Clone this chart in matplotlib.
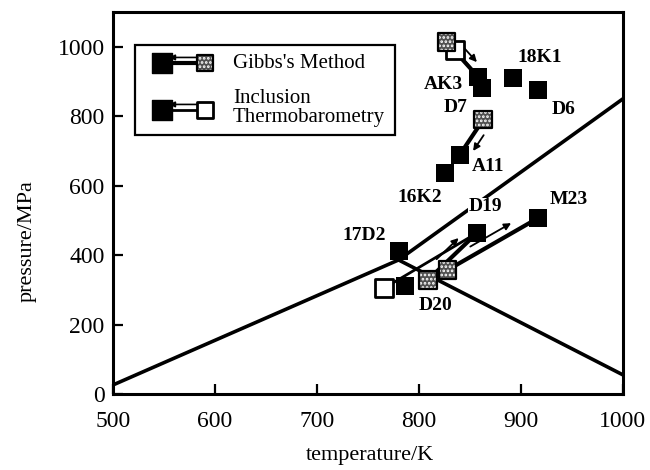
import numpy as np
import matplotlib
matplotlib.use('Agg')
import matplotlib.pyplot as plt
from matplotlib.patches import Rectangle

plt.rcParams['font.family'] = ['Liberation Serif', 'DejaVu Serif']
plt.rcParams['hatch.linewidth'] = 1.3

# phase boundaries (temperature/K, pressure/MPa)
bound_T = [500, 780, 1000]
bound_P = [26, 386, 850]
desc_T = [780, 1000]
desc_P = [386, 55]

# final estimates (black squares)
samples = ['18K1', 'D6', 'AK3', 'D7', 'A11', '16K2', '17D2', 'D19', 'M23', 'D20']
black_T = [892, 917, 858, 862, 840, 826, 780, 857, 917, 786]
black_P = [910, 875, 913, 882, 689, 637, 412, 464, 507, 311]

# starting points, Gibbs's method (hatched) -> target sample
gibbs_T = [827, 863, 809, 828]
gibbs_P = [1014, 790, 329, 357]
gibbs_to = ['AK3', 'A11', 'D19', 'M23']

# starting points, inclusion thermobarometry (open) -> target sample
incl_T = [835, 766]
incl_P = [991, 305]
incl_to = ['AK3', 'D19']

# label positions
label_T = [918, 942, 824, 836, 868, 801, 746, 865, 947, 816]
label_P = [968, 818, 890, 824, 654, 565, 455, 539, 559, 256]

fig = plt.figure(figsize=(6.5, 4.7), dpi=100)
ax = fig.add_axes([0.1738, 0.1617, 0.7846, 0.8128])
ax.set_xlim(500, 1000)
ax.set_ylim(0, 1100)

ax.plot(bound_T, bound_P, color='k', lw=2.6, zorder=2, solid_capstyle='butt')
ax.plot(desc_T, desc_P, color='k', lw=2.6, zorder=2, solid_capstyle='butt')

idx = {s: i for i, s in enumerate(samples)}


def offset_arrow(t0, p0, t1, p1, side=1, off=9, style='-|>'):
    a = ax.transData.transform((t0, p0))
    b = ax.transData.transform((t1, p1))
    d = b - a
    u = d / np.hypot(*d)
    n = np.array([-u[1], u[0]]) * side
    s = a + d * 0.3 + n * off
    e = a + d * 0.75 + n * off
    s, e = ax.transData.inverted().transform([s, e])
    ax.annotate('', xy=e, xytext=s,
                arrowprops=dict(arrowstyle=style, lw=1.3, color='k',
                                mutation_scale=10, shrinkA=0, shrinkB=0),
                zorder=3)


def hatched(x, y, size, **kw):
    ax.scatter(x, y, marker='s', s=size, facecolor='#505050',
               edgecolor='white', linewidth=0, hatch='....', **kw)
    z = kw.pop('zorder', 5)
    ax.scatter(x, y, marker='s', s=size, facecolor='none',
               edgecolor='k', linewidth=1.6, zorder=z + 0.1, **kw)


for t, p, s in zip(gibbs_T, gibbs_P, gibbs_to):
    i = idx[s]
    ax.plot([t, black_T[i]], [p, black_P[i]], color='k', lw=3, zorder=3)
    offset_arrow(t, p, black_T[i], black_P[i])

for t, p, s in zip(incl_T, incl_P, incl_to):
    i = idx[s]
    ax.plot([t, black_T[i]], [p, black_P[i]], color='k', lw=2, zorder=3)

ax.scatter(incl_T, incl_P, marker='s', s=150, facecolor='white',
           edgecolor='k', linewidth=2, zorder=4)
hatched(gibbs_T, gibbs_P, 160, zorder=5)
ax.scatter(black_T, black_P, marker='s', s=180, facecolor='k',
           edgecolor='k', linewidth=0, zorder=6)

for s, t, p in zip(samples, label_T, label_P):
    ax.text(t, p, s, fontsize=14, fontweight='bold', ha='center', va='center',
            zorder=7, bbox=dict(facecolor='white', edgecolor='none', pad=0.5))

# legend box
ax.add_patch(Rectangle((0.043, 0.678), 0.51, 0.236, transform=ax.transAxes,
                       facecolor='white', edgecolor='k', lw=1.6, zorder=8))
for y, kind in [(0.866, 'gibbs'), (0.743, 'incl')]:
    ax.plot([0.096, 0.180], [y, y], transform=ax.transAxes, color='k',
            lw=3 if kind == 'gibbs' else 2, zorder=9)
    ax.annotate('', xy=(0.11, y + 0.015), xytext=(0.165, y + 0.015),
                xycoords='axes fraction',
                arrowprops=dict(arrowstyle='-|>', lw=1.2, color='k',
                                mutation_scale=8, shrinkA=0, shrinkB=0),
                zorder=9)
    ax.scatter([0.096], [y], marker='s', s=215, color='k',
               transform=ax.transAxes, zorder=10)
    if kind == 'gibbs':
        hatched([0.180], [y], 140, transform=ax.transAxes, zorder=10)
    else:
        ax.scatter([0.180], [y], marker='s', s=125, facecolor='white',
                   edgecolor='k', linewidth=2, transform=ax.transAxes,
                   zorder=10)
ax.text(0.235, 0.866, "Gibbs's Method", transform=ax.transAxes,
        fontsize=15, va='center', zorder=10)
ax.text(0.235, 0.748, "Inclusion\nThermobarometry", transform=ax.transAxes,
        fontsize=15, va='center', linespacing=1.0, zorder=10)

ax.set_xticks(np.arange(500, 1001, 100))
ax.set_yticks(np.arange(0, 1001, 200))
ax.tick_params(direction='in', length=7, width=1.6, labelsize=17)
ax.tick_params(axis='x', pad=12)
ax.tick_params(axis='y', pad=6)
for sp in ax.spines.values():
    sp.set_linewidth(2.2)

ax.set_xlabel('temperature/K', fontsize=16)
ax.set_ylabel('pressure/MPa', fontsize=16)
ax.xaxis.set_label_coords(0.504, -0.135)
ax.yaxis.set_label_coords(-0.15, 0.40)

fig.savefig('out.png', dpi=100)
